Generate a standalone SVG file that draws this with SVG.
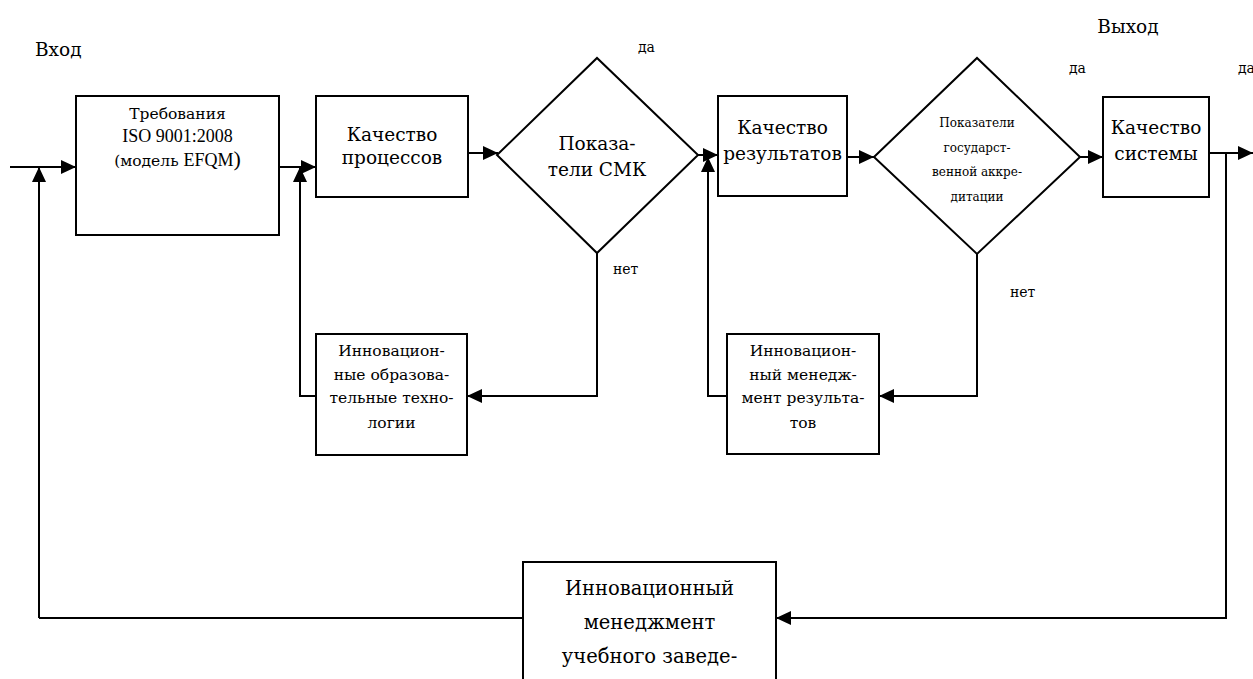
<svg xmlns="http://www.w3.org/2000/svg" width="1253" height="679" viewBox="0 0 1253 679">
<style>
.box{fill:#fff;stroke:#000;stroke-width:2}
.ln{fill:none;stroke:#000;stroke-width:2}
text{font-family:"DejaVu Serif","Liberation Serif",serif;fill:#000}
.lat{font-family:"Liberation Serif","Times New Roman",serif}
.c{text-anchor:middle}
.t20{font-size:18.5px}
.t18{font-size:15.5px}
.t14{font-size:12px}
.t17{font-size:14px}
.t22{font-size:19.5px}
</style>
<defs>
<marker id="ar" markerUnits="userSpaceOnUse" markerWidth="16" markerHeight="14" refX="15" refY="7" orient="auto">
<path d="M0,0 L15,7 L0,14 Z" fill="#000"/>
</marker>
</defs>
<rect width="1253" height="679" fill="#fff"/>
<g id="connectors" class="ln">
<path d="M10,167 H76" marker-end="url(#ar)"/>
<path d="M39,618 V167" marker-end="url(#ar)"/>
<path d="M523,618 H39"/>
<path d="M279,167 H316" marker-end="url(#ar)"/>
<path d="M316,396 H300 V167" marker-end="url(#ar)"/>
<path d="M468,153 H498" marker-end="url(#ar)"/>
<path d="M597,253 V396 H467" marker-end="url(#ar)"/>
<path d="M698,155 H718" marker-end="url(#ar)"/>
<path d="M727,396 H708 V157" marker-end="url(#ar)"/>
<path d="M847,157 H874" marker-end="url(#ar)"/>
<path d="M977,254 V396 H879" marker-end="url(#ar)"/>
<path d="M1080,157 H1103" marker-end="url(#ar)"/>
<path d="M1209,153 H1253" marker-end="url(#ar)"/>
<path d="M1226,153 V618 H776" marker-end="url(#ar)"/>
</g>
<g id="labels">
<text x="35" y="56" class="t20">Вход</text>
<text x="1128" y="33" class="t20 c">Выход</text>
<text x="638" y="52" class="t17">да</text>
<text x="1069" y="73" class="t17">да</text>
<text x="1238" y="73" class="t17">да</text>
<text x="613" y="274" class="t17">нет</text>
<text x="1010" y="297" class="t17">нет</text>
</g>
<g id="n1">
<rect class="box" x="76" y="96" width="203" height="139"/>
<text x="177.5" y="119" class="t18 c">Требования</text>
<text x="177.5" y="142" class="lat c" font-size="18px">ISO 9001:2008</text>
<text x="177.5" y="166" class="t18 c">(модель <tspan class="lat" font-size="18px">EFQM</tspan><tspan class="lat" font-size="22px">)</tspan></text>
</g>
<g id="n2">
<rect class="box" x="316" y="96" width="152" height="101"/>
<text x="392" y="141" class="t20 c">Качество</text>
<text x="392" y="164" class="t20 c">процессов</text>
</g>
<g id="d1">
<polygon class="box" points="497,155 597,58 698,155 597,253"/>
<text x="597" y="150" class="t20 c">Показа-</text>
<text x="597" y="176" class="t20 c">тели СМК</text>
</g>
<g id="n3">
<rect class="box" x="718" y="96" width="129" height="100"/>
<text x="782.5" y="134" class="t20 c">Качество</text>
<text x="782.5" y="160" class="t20 c">результатов</text>
</g>
<g id="d2">
<polygon class="box" points="874,157 977,58 1080,157 977,254"/>
<text x="977" y="127" class="t14 c">Показатели</text>
<text x="977" y="152" class="t14 c">государст-</text>
<text x="977" y="176" class="t14 c">венной аккре-</text>
<text x="977" y="201" class="t14 c">дитации</text>
</g>
<g id="n4">
<rect class="box" x="1103" y="97" width="106" height="100"/>
<text x="1156" y="134" class="t20 c">Качество</text>
<text x="1156" y="160" class="t20 c">системы</text>
</g>
<g id="n5">
<rect class="box" x="316" y="334" width="151" height="121"/>
<text x="391.5" y="356" class="t18 c">Инновацион-</text>
<text x="391.5" y="380" class="t18 c">ные образова-</text>
<text x="391.5" y="403" class="t18 c">тельные техно-</text>
<text x="391.5" y="428" class="t18 c">логии</text>
</g>
<g id="n6">
<rect class="box" x="727" y="334" width="152" height="120"/>
<text x="803" y="356" class="t18 c">Инновацион-</text>
<text x="803" y="380" class="t18 c">ный менедж-</text>
<text x="803" y="403" class="t18 c">мент результа-</text>
<text x="803" y="428" class="t18 c">тов</text>
</g>
<g id="n7">
<rect class="box" x="523" y="562" width="253" height="140"/>
<text x="649.5" y="595" class="t22 c">Инновационный</text>
<text x="649.5" y="629" class="t22 c">менеджмент</text>
<text x="649.5" y="663" class="t22 c">учебного заведе-</text>
</g>
</svg>
